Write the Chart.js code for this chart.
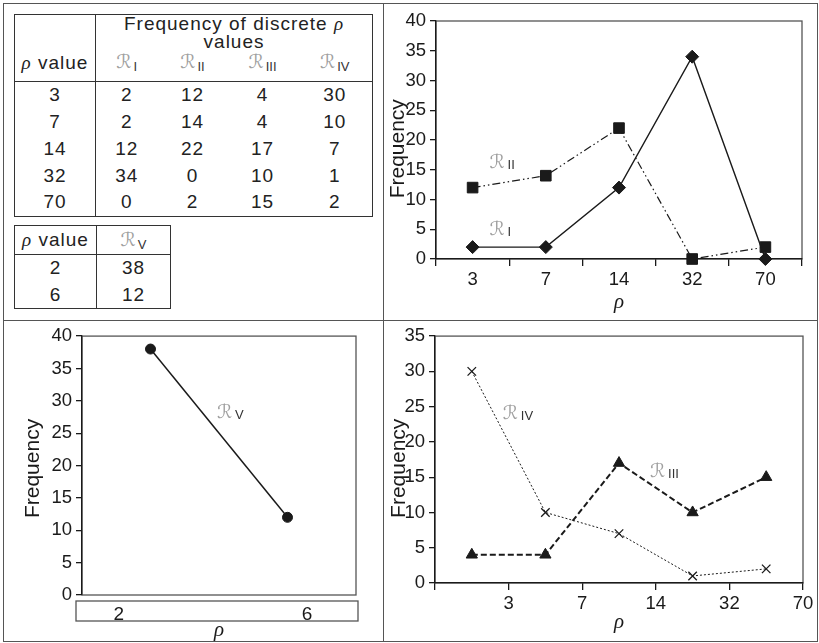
<!DOCTYPE html>
<html>
<head>
<meta charset="utf-8">
<script src="https://cdn.jsdelivr.net/npm/chart.js@4.4.1/dist/chart.umd.min.js"></script>
<style>
  body { margin: 0; background: #fff; }
  #fig { position: relative; width: 819px; height: 643px; overflow: hidden; font-family: "Liberation Sans", Arial, sans-serif; color: #222; }
  .rule { position: absolute; background: #555; }
  .panel { position: absolute; }
  table { position: absolute; border-collapse: collapse; table-layout: fixed; font-size: 19px; letter-spacing: 1px; }
  td { padding: 0; text-align: center; line-height: 18px; }
  .scr { font-family: "DejaVu Sans", serif; font-style: italic; color: #a0a0a0; font-size: 19px; letter-spacing: 0; }
  .sub { font-size: 13px; color: #333; letter-spacing: 0; position: relative; top: 3px; margin-left: 2px; }
  .rho { font-family: "Liberation Serif", "DejaVu Serif", serif; font-style: italic; }
  .bl { border-left: 1.3px solid #333; }
  .bb { border-bottom: 1.3px solid #333; }
</style>
</head>
<body>
<div id="fig">
  <div class="rule" style="left:3px;top:3px;width:815px;height:1.3px"></div>
  <div class="rule" style="left:3px;top:641px;width:815px;height:1.3px"></div>
  <div class="rule" style="left:3px;top:3px;width:1.3px;height:639px"></div>
  <div class="rule" style="left:817px;top:3px;width:1.3px;height:639px"></div>
  <div class="rule" style="left:383px;top:3px;width:1.3px;height:639px"></div>
  <div class="rule" style="left:3px;top:320px;width:815px;height:1.3px"></div>

  <table id="t1" style="left:14px;top:14px;width:358px;border:1.3px solid #333"></table>
  <table id="t2" style="left:14px;top:225px;width:156px;border:1.3px solid #333"></table>

  <div class="panel" style="left:384px;top:4px;width:433px;height:315px"><canvas id="c1"></canvas></div>
  <div class="panel" style="left:4px;top:321px;width:378px;height:320px"><canvas id="c2"></canvas></div>
  <div class="panel" style="left:384px;top:321px;width:433px;height:320px"><canvas id="c3"></canvas></div>
</div>

<script>
// data
const rhoValues = ['3', '7', '14', '32', '70'];
const freqI = [2, 2, 12, 34, 0];
const freqII = [12, 14, 22, 0, 2];
const freqIII = [4, 4, 17, 10, 15];
const freqIV = [30, 10, 7, 1, 2];
const rhoValuesV = ['2', '6'];
const freqV = [38, 12];
const seriesNames = ['I', 'II', 'III', 'IV'];

const FONT = "'Liberation Sans', Arial, sans-serif";
const INK = '#1a1a1a';

// ---- tables ----
const scr = s => `<span class="scr">ℛ</span><span class="sub">${s}</span>`;
const cols = [freqI, freqII, freqIII, freqIV];

let t1 = `<colgroup><col style="width:81px"><col style="width:62px"><col style="width:70px"><col style="width:70px"><col style="width:75px"></colgroup>
  <tr style="height:36px"><td rowspan="2" class="bb" style="vertical-align:bottom;padding-bottom:9px"><span class="rho">ρ</span> value</td>
  <td colspan="4" class="bl" style="vertical-align:top">Frequency of discrete <span class="rho">ρ</span><br>values</td></tr>
  <tr style="height:30px">${seriesNames.map((s, i) => `<td class="bb${i === 0 ? ' bl' : ''}" style="vertical-align:bottom;padding-bottom:8px">${scr(s)}</td>`).join('')}</tr>`;
rhoValues.forEach((r, i) => {
  t1 += `<tr style="height:27px"><td>${r}</td>${cols.map((c, j) => `<td${j === 0 ? ' class="bl"' : ''}>${c[i]}</td>`).join('')}</tr>`;
});
document.getElementById('t1').innerHTML = t1;

let t2 = `<colgroup><col style="width:82px"><col style="width:74px"></colgroup>
  <tr style="height:29px"><td class="bb"><span class="rho">ρ</span> value</td><td class="bb bl">${scr('V')}</td></tr>`;
rhoValuesV.forEach((r, i) => {
  t2 += `<tr style="height:27px"><td>${r}</td><td class="bl">${freqV[i]}</td></tr>`;
});
document.getElementById('t2').innerHTML = t2;

// ---- plugins ----
const plotBox = {
  id: 'plotBox',
  beforeDraw(chart) {
    const { ctx, chartArea: a } = chart;
    ctx.save();
    ctx.strokeStyle = '#555';
    ctx.lineWidth = 1.3;
    ctx.strokeRect(a.left, a.top, a.right - a.left, a.bottom - a.top);
    ctx.restore();
  }
};

const seriesTags = {
  id: 'seriesTags',
  afterDatasetsDraw(chart, args, opts) {
    const { ctx, scales: { x, y } } = chart;
    (opts.tags || []).forEach(t => {
      const px = x.getPixelForValue(t.at[0]);
      const py = y.getPixelForValue(t.at[1]);
      ctx.save();
      ctx.textBaseline = 'alphabetic';
      ctx.textAlign = 'left';
      ctx.font = "italic 19px 'DejaVu Sans', serif";
      ctx.fillStyle = '#a0a0a0';
      ctx.fillText('ℛ', px, py);
      const w = ctx.measureText('ℛ').width;
      ctx.font = '13px ' + FONT;
      ctx.fillStyle = '#333';
      ctx.fillText(t.sub, px + w + 3, py + 1);
      ctx.restore();
    });
  }
};

// label strip under the R_V plot
const rhoStrip = {
  id: 'rhoStrip',
  afterDraw(chart, args, opts) {
    const { ctx, chartArea: a } = chart;
    const x0 = a.left - 6, x1 = a.right + 2, y0 = a.bottom + 6;
    ctx.save();
    ctx.strokeStyle = '#555';
    ctx.lineWidth = 1.3;
    ctx.strokeRect(x0, y0, x1 - x0, 20);
    ctx.font = '19px ' + FONT;
    ctx.fillStyle = INK;
    ctx.textAlign = 'center';
    ctx.textBaseline = 'alphabetic';
    opts.labels.forEach((l, i) => ctx.fillText(l, x0 + (x1 - x0) * opts.at[i], y0 + 19));
    ctx.restore();
  }
};

// ---- chart helpers ----
function yAxis(max, width, titlePad, title) {
  return {
    min: 0, max,
    afterFit: s => { s.width = width; },
    border: { color: INK, width: 1.3 },
    grid: { drawOnChartArea: false, color: INK, lineWidth: 1.3, tickLength: 6 },
    ticks: { stepSize: 5, color: INK, padding: 4, font: { family: FONT, size: 18.5 } },
    title: { display: true, text: title, color: INK, padding: { top: titlePad, bottom: 0 }, font: { family: FONT, size: 21 } }
  };
}

function xAxis(height, titlePad, labelOffset) {
  return {
    offset: true,
    afterFit: s => { s.height = height; },
    border: { color: INK, width: 1.3 },
    grid: { offset: true, drawOnChartArea: false, color: INK, lineWidth: 1.3, tickLength: 7 },
    ticks: { color: INK, padding: 3, labelOffset, maxRotation: 0, autoSkip: false, font: { family: FONT, size: 18.5 } },
    title: { display: true, text: 'ρ', color: INK, padding: { top: 0, bottom: titlePad }, font: { family: "'Liberation Serif', 'DejaVu Serif', serif", size: 21, style: 'italic' } }
  };
}

function series(data, style) {
  return Object.assign({
    data,
    borderColor: INK,
    backgroundColor: INK,
    pointBackgroundColor: INK,
    pointBorderColor: INK,
    pointBorderWidth: 1,
    borderWidth: 1.4,
    tension: 0,
    clip: false
  }, style);
}

const baseOptions = {
  responsive: true,
  maintainAspectRatio: false,
  animation: false,
  events: []
};

// R_I and R_II
new Chart(document.getElementById('c1'), {
  type: 'line',
  data: {
    labels: rhoValues,
    datasets: [
      series(freqI, { pointStyle: 'rectRot', pointRadius: 6.5, borderWidth: 1.4 }),
      series(freqII, { pointStyle: 'rect', pointRadius: 7.5, borderWidth: 1.2, borderDash: [8, 3, 1.5, 3, 1.5, 3] })
    ]
  },
  options: Object.assign({}, baseOptions, {
    layout: { padding: { left: 0, top: 17, right: 15, bottom: 0 } },
    scales: { x: xAxis(60, 4, 0), y: yAxis(40, 52, 2, 'Frequency   ') },
    plugins: {
      legend: { display: false }, tooltip: { enabled: false },
      seriesTags: { tags: [{ sub: 'II', at: [0.23, 15.3] }, { sub: 'I', at: [0.23, 4.0] }] }
    }
  }),
  plugins: [plotBox, seriesTags]
});

// R_V
new Chart(document.getElementById('c2'), {
  type: 'line',
  data: {
    labels: rhoValuesV,
    datasets: [series(freqV, { pointStyle: 'circle', pointRadius: 5, borderWidth: 1.5 })]
  },
  options: Object.assign({}, baseOptions, {
    layout: { padding: { left: 0, top: 13, right: 26, bottom: 0 } },
    scales: {
      x: {
        offset: true,
        afterFit: s => { s.height = 46; },
        border: { display: false },
        grid: { display: false },
        ticks: { display: false },
        title: { display: true, text: 'ρ', color: INK, padding: 0, font: { family: "'Liberation Serif', 'DejaVu Serif', serif", size: 21, style: 'italic', lineHeight: 1 } }
      },
      y: yAxis(40, 78, 17, 'Frequency ')
    },
    plugins: {
      legend: { display: false }, tooltip: { enabled: false },
      seriesTags: { tags: [{ sub: 'V', at: [0.485, 27.4] }] },
      rhoStrip: { labels: rhoValuesV, at: [0.152, 0.819] }
    }
  }),
  plugins: [plotBox, seriesTags, rhoStrip]
});

// R_III and R_IV
new Chart(document.getElementById('c3'), {
  type: 'line',
  data: {
    labels: rhoValues,
    datasets: [
      series(freqIII, { pointStyle: 'triangle', pointRadius: 6.5, borderWidth: 2, borderDash: [6, 3] }),
      series(freqIV, { pointStyle: 'crossRot', pointRadius: 6, pointBorderWidth: 1.3, borderWidth: 1, borderDash: [2, 2] })
    ]
  },
  options: Object.assign({}, baseOptions, {
    layout: { padding: { left: 0, top: 14, right: 14, bottom: 0 } },
    scales: { x: xAxis(58, 6, 36.8), y: yAxis(35, 51, 3, 'Frequency   ') },
    plugins: {
      legend: { display: false }, tooltip: { enabled: false },
      seriesTags: { tags: [{ sub: 'IV', at: [0.42, 23.3] }, { sub: 'III', at: [2.42, 15.0] }] }
    }
  }),
  plugins: [plotBox, seriesTags]
});
</script>
</body>
</html>
